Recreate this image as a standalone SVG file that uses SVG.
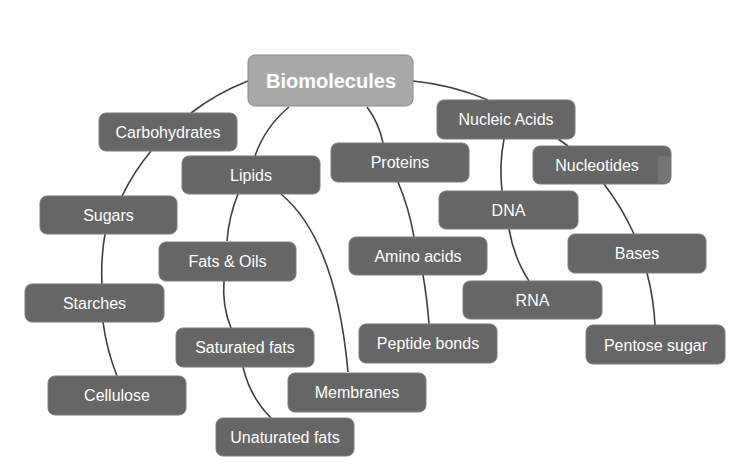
<svg xmlns="http://www.w3.org/2000/svg" width="750" height="472" viewBox="0 0 750 472">
<style>
.n rect{fill:#666666;stroke:#7c7c7c;stroke-width:1}
.n text{fill:#ffffff;font-family:"Liberation Sans",Arial,sans-serif;font-size:16px;text-anchor:middle}
#root rect{fill:#a9a9a9;stroke:#8a8a8a}
#root text{font-weight:bold;font-size:20px}
.e path{fill:none;stroke:#3f3f3f;stroke-width:1.6}
</style>
<rect width="750" height="472" fill="#ffffff"/>
<g class="e" id="connectors">
<path d="M248,81 A227,227 0 0 0 191,113"/>
<path d="M151,151 A227,227 0 0 0 122,196"/>
<path d="M105,234 A227,227 0 0 0 102,284"/>
<path d="M103,322 A227,227 0 0 0 117,376"/>
<path d="M289,107 Q265,127 255,156"/>
<path d="M238,194 Q229,216 227,241"/>
<path d="M224,281 Q222,306 231,328"/>
<path d="M243,367 Q250,397 271,418"/>
<path d="M281,194 Q336,240 348,372"/>
<path d="M367,107 Q379,123 383,143"/>
<path d="M398,182 Q409,208 414,237"/>
<path d="M423,275 Q427,298 429,324"/>
<path d="M413,81 A256,256 0 0 1 488,100"/>
<path d="M558,139 A256,256 0 0 1 568,146"/>
<path d="M604,184 A256,256 0 0 1 634,234"/>
<path d="M647,273 A256,256 0 0 1 655,325"/>
<path d="M504,139 Q499,165 502,191"/>
<path d="M509,229 Q514,258 529,281"/>
</g>
<g class="n" id="root"><rect x="248" y="55" width="165" height="51" rx="7"/><text x="331" y="87.5">Biomolecules</text></g>
<g class="n" id="carbohydrates"><rect x="99" y="113" width="138" height="38" rx="7"/><text x="168" y="137.5">Carbohydrates</text></g>
<g class="n" id="lipids"><rect x="182" y="156" width="138" height="38" rx="7"/><text x="251" y="180.5">Lipids</text></g>
<g class="n" id="proteins"><rect x="331" y="143" width="138" height="39" rx="7"/><text x="400" y="167.5">Proteins</text></g>
<g class="n" id="nucleic-acids"><rect x="437" y="100" width="138" height="39" rx="7"/><text x="506" y="124.5">Nucleic Acids</text></g>
<g class="n" id="nucleotides"><rect x="533" y="146" width="138" height="38" rx="7"/><rect x="658" y="156" width="12" height="27" rx="2" style="fill:#747474;stroke:none"/><text x="597" y="170.5">Nucleotides</text></g>
<g class="n" id="sugars"><rect x="40" y="196" width="137" height="38" rx="7"/><text x="108.5" y="220.5">Sugars</text></g>
<g class="n" id="dna"><rect x="439" y="191" width="139" height="38" rx="7"/><text x="508.5" y="215.5">DNA</text></g>
<g class="n" id="bases"><rect x="568" y="234" width="138" height="39" rx="7"/><text x="637" y="259">Bases</text></g>
<g class="n" id="fats-oils"><rect x="159" y="242" width="137" height="39" rx="7"/><text x="227.5" y="266.5">Fats &amp; Oils</text></g>
<g class="n" id="amino-acids"><rect x="349" y="237" width="138" height="38" rx="7"/><text x="418" y="261.5">Amino acids</text></g>
<g class="n" id="starches"><rect x="25" y="284" width="139" height="38" rx="7"/><text x="94.5" y="308.5">Starches</text></g>
<g class="n" id="rna"><rect x="463" y="281" width="139" height="38" rx="7"/><text x="532.5" y="305.5">RNA</text></g>
<g class="n" id="saturated-fats"><rect x="176" y="328" width="138" height="39" rx="7"/><text x="245" y="352.5">Saturated fats</text></g>
<g class="n" id="peptide-bonds"><rect x="359" y="324" width="138" height="39" rx="7"/><text x="428" y="348.5">Peptide bonds</text></g>
<g class="n" id="pentose-sugar"><rect x="586" y="325" width="139" height="39" rx="7"/><text x="655.5" y="350.5">Pentose sugar</text></g>
<g class="n" id="cellulose"><rect x="48" y="376" width="138" height="39" rx="7"/><text x="117" y="400.5">Cellulose</text></g>
<g class="n" id="membranes"><rect x="288" y="373" width="138" height="39" rx="7"/><text x="357" y="397.5">Membranes</text></g>
<g class="n" id="unsaturated-fats"><rect x="216" y="418" width="138" height="38" rx="7"/><text x="285" y="442.5">Unaturated fats</text></g>
</svg>
